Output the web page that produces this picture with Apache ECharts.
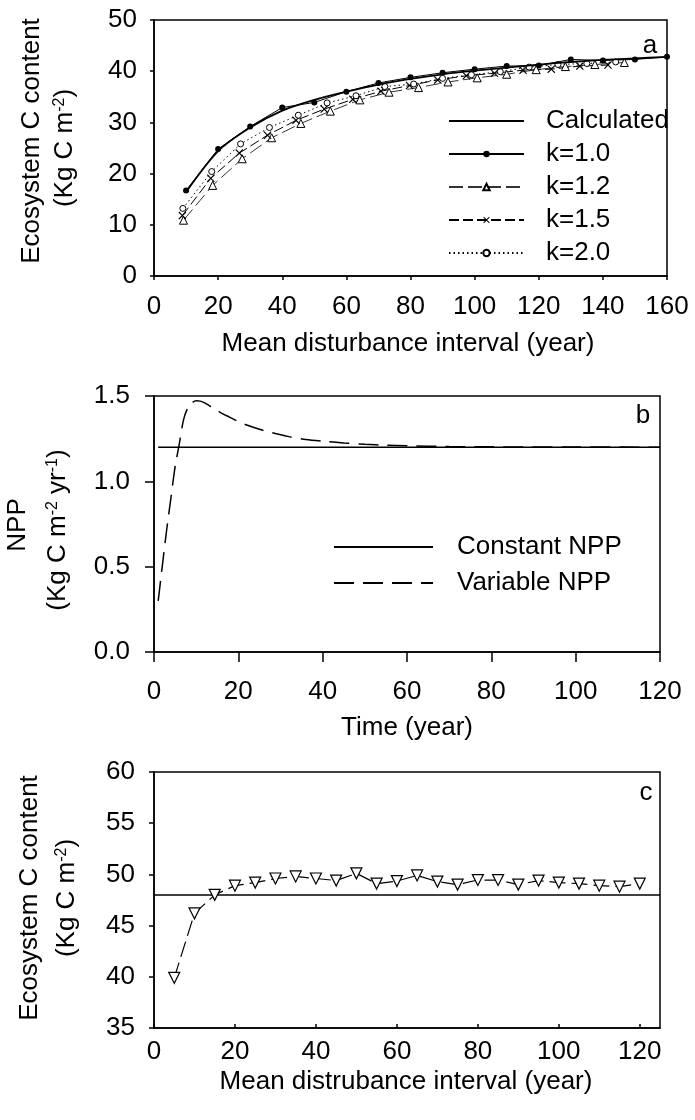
<!DOCTYPE html>
<html>
<head>
<meta charset="utf-8">
<script src="https://cdn.jsdelivr.net/npm/echarts@6/dist/echarts.min.js"></script>
<style>
html,body{margin:0;padding:0;background:#fff;}
#chart{width:695px;height:1120px;}
</style>
</head>
<body>
<div id="chart"></div>
<script>
// ---- Panel a data ----
const calcX = [10,20,30,40,50,60,70,80,90,100,110,120,130,140,150,160];
const calcY = [16.4,24.4,29.0,32.3,34.4,36.0,37.4,38.5,39.4,40.1,40.7,41.3,41.8,42.2,42.5,42.8];
const k10X = [10,20,30,40,50,60,70,80,90,100,110,120,130,140,150,160];
const k10Y = [16.7,24.8,29.2,32.9,33.9,36.0,37.7,38.8,39.7,40.4,41.0,41.1,42.3,42.1,42.3,42.8];
const k12X = [9.2,18.3,27.5,36.7,45.8,55,64.2,73.3,82.5,91.7,100.8,110,119.2,128.3,137.5,146.7];
const k12Y = [10.9,17.7,22.9,27.0,29.8,32.2,34.4,35.9,36.8,37.9,38.7,39.4,40.3,40.9,41.3,41.7];
const k15X = [8.85,17.7,26.6,35.4,44.3,53.1,62,70.8,79.7,88.5,97.4,106.2,115.1,123.9,132.8,141.6];
const k15Y = [11.8,19.1,24.0,27.5,30.4,32.6,34.5,36.1,37.2,38.3,39.1,39.6,40.2,40.4,41.0,41.2];
const k20X = [9,18,27,36,45,54,63,72,81,90,99,108,117,126,135,144];
const k20Y = [13.2,20.4,25.8,29.0,31.4,33.8,35.2,37.0,37.5,38.6,39.3,39.9,40.8,41.3,41.5,41.8];

// ---- Panel b data ----
const varT = [1,2,3,4,5,6,7,8,9,10,11,12,14,16,18,20,22,25,28,32,36,40,45,50,55,60,70,80,100,120];
const varNPP = [0.30,0.51,0.715,0.90,1.085,1.22,1.36,1.43,1.46,1.472,1.47,1.46,1.43,1.40,1.375,1.35,1.33,1.305,1.285,1.262,1.245,1.235,1.225,1.217,1.212,1.208,1.204,1.202,1.201,1.2];
const constT = [1,120];
const constNPP = [1.2,1.2];

// ---- Panel c data ----
const intervalX = [5,10,15,20,25,30,35,40,45,50,55,60,65,70,75,80,85,90,95,100,105,110,115,120];
const ecoC = [39.9,46.2,48.0,48.9,49.2,49.6,49.8,49.6,49.4,50.1,49.1,49.35,49.9,49.3,49.0,49.45,49.45,49.0,49.4,49.2,49.1,48.9,48.8,49.1];
const baseX = [0,125];
const baseC = [48,48];

const zip = (xs, ys) => xs.map((x, i) => [x, ys[i]]);
const FONT = "'Liberation Sans', Arial, sans-serif";
const FS = 26;
const black = '#000';

function xAxisCfg(grid, min, max, tickLen, tickInside, margin) {
  return {
    type: 'value', gridIndex: grid, min: min, max: max, interval: 20,
    axisLine: {show: true, onZero: false, lineStyle: {color: black, width: 1.5}},
    axisTick: {show: true, inside: tickInside, length: tickLen, lineStyle: {color: black, width: 1.5}},
    splitLine: {show: false},
    axisLabel: {color: black, fontSize: FS, fontFamily: FONT, margin: margin, showMaxLabel: max % 20 === 0,
      formatter: v => (v % 20 === 0 ? String(v) : '')}
  };
}
function yAxisCfg(grid, min, max, interval, tickLen, margin, fmt) {
  return {
    type: 'value', gridIndex: grid, min: min, max: max, interval: interval,
    axisLine: {show: true, onZero: false, lineStyle: {color: black, width: 1.5}},
    axisTick: {show: true, length: tickLen, lineStyle: {color: black, width: 1.5}},
    splitLine: {show: false},
    axisLabel: {color: black, fontSize: FS, fontFamily: FONT, margin: margin, formatter: fmt}
  };
}

const xPath = 'path://M0,1L1,0L5,4L9,0L10,1L6,5L10,9L9,10L5,6L1,10L0,9L4,5Z';
const noSym = {opacity: 0};

const option = {
  animation: false,
  backgroundColor: '#fff',
  textStyle: {fontFamily: FONT},
  grid: [
    {left: 154, top: 20, width: 513, height: 256, show: true, borderColor: black, borderWidth: 1.5},
    {left: 154, top: 396, width: 506, height: 256, show: true, borderColor: black, borderWidth: 1.5},
    {left: 154, top: 772, width: 506, height: 256, show: true, borderColor: black, borderWidth: 1.5}
  ],
  xAxis: [
    xAxisCfg(0, 0, 160, 4, false, 18),
    xAxisCfg(1, 0, 120, 10, false, 27),
    xAxisCfg(2, 0, 125, 4, true, 11)
  ],
  yAxis: [
    yAxisCfg(0, 0, 50, 10, 4, 17, v => String(v)),
    yAxisCfg(1, 0, 1.5, 0.5, 9, 24, v => v.toFixed(1)),
    yAxisCfg(2, 35, 60, 5, 5, 19, v => String(v))
  ],
  legend: [
    {
      orient: 'vertical', left: 443, top: 103, itemWidth: 75, itemHeight: 8, itemGap: 7,
      data: [{name: 'Calculated', itemStyle: noSym}, 'k=1.0', 'k=1.2', 'k=1.5', 'k=2.0'],
      textStyle: {color: black, fontSize: FS, fontFamily: FONT, lineHeight: 26, padding: [0,0,0,17]}
    },
    {
      orient: 'vertical', left: 328, top: 529, itemWidth: 99, itemHeight: 8, itemGap: 10,
      data: [{name: 'Constant NPP', itemStyle: noSym}, {name: 'Variable NPP', itemStyle: noSym}],
      textStyle: {color: black, fontSize: FS, fontFamily: FONT, lineHeight: 26, padding: [0,0,0,19]}
    }
  ],
  series: [
    {name: 'Calculated', type: 'line', xAxisIndex: 0, yAxisIndex: 0, data: zip(calcX, calcY),
      symbol: 'none', smooth: 0.3, lineStyle: {color: black, width: 1.8}, itemStyle: {color: black}, z: 5},
    {name: 'k=1.0', type: 'line', xAxisIndex: 0, yAxisIndex: 0, data: zip(k10X, k10Y),
      symbol: 'circle', symbolSize: 6, lineStyle: {color: black, width: 1},
      itemStyle: {color: black, borderColor: black, borderWidth: 0}},
    {name: 'k=1.2', type: 'line', xAxisIndex: 0, yAxisIndex: 0, data: zip(k12X, k12Y),
      symbol: 'triangle', symbolSize: 8, lineStyle: {color: '#333', width: 1, type: [14,5]},
      itemStyle: {color: '#fff', borderColor: black, borderWidth: 1}},
    {name: 'k=1.5', type: 'line', xAxisIndex: 0, yAxisIndex: 0, data: zip(k15X, k15Y),
      symbol: xPath, symbolSize: 8, lineStyle: {color: black, width: 1, type: [10,4]},
      itemStyle: {color: black, borderColor: black, borderWidth: 0}},
    {name: 'k=2.0', type: 'line', xAxisIndex: 0, yAxisIndex: 0, data: zip(k20X, k20Y),
      symbol: 'circle', symbolSize: 6, lineStyle: {color: black, width: 1, type: [1.5,3]},
      itemStyle: {color: '#fff', borderColor: black, borderWidth: 1}},

    {name: 'Constant NPP', type: 'line', xAxisIndex: 1, yAxisIndex: 1, data: zip(constT, constNPP),
      symbol: 'none', lineStyle: {color: black, width: 1.5}, itemStyle: {color: black}},
    {name: 'Variable NPP', type: 'line', xAxisIndex: 1, yAxisIndex: 1, data: zip(varT, varNPP),
      symbol: 'none', smooth: 0.3, lineStyle: {color: black, width: 1.5, type: [20,9]}, itemStyle: {color: black}},

    {name: 'c-base', type: 'line', xAxisIndex: 2, yAxisIndex: 2, data: zip(baseX, baseC),
      symbol: 'none', lineStyle: {color: black, width: 1.5}, z: 2},
    {name: 'c-eco', type: 'line', xAxisIndex: 2, yAxisIndex: 2, data: zip(intervalX, ecoC),
      symbol: 'triangle', symbolRotate: 180, symbolSize: 11, lineStyle: {color: black, width: 1.2, type: [16,6]},
      itemStyle: {color: '#fff', borderColor: black, borderWidth: 1.2}, z: 3}
  ],
  graphic: [
    {type: 'text', x: 32, y: 141, rotation: Math.PI/2, style: {text: 'Ecosystem C content', fontSize: FS, fontFamily: FONT, fill: black, align: 'center', verticalAlign: 'middle'}},
    {type: 'text', x: 65, y: 148, rotation: Math.PI/2, style: {text: '(Kg C m{s|-2})', fontSize: FS, fontFamily: FONT, fill: black, align: 'center', verticalAlign: 'middle',
      rich: {s: {fontSize: 16, fontFamily: FONT, fill: black, verticalAlign: 'top'}}}},
    {type: 'text', x: 18, y: 525, rotation: Math.PI/2, style: {text: 'NPP', fontSize: FS, fontFamily: FONT, fill: black, align: 'center', verticalAlign: 'middle'}},
    {type: 'text', x: 58, y: 530, rotation: Math.PI/2, style: {text: '(Kg C m{s|-2} yr{s|-1})', fontSize: FS, fontFamily: FONT, fill: black, align: 'center', verticalAlign: 'middle',
      rich: {s: {fontSize: 16, fontFamily: FONT, fill: black, verticalAlign: 'top'}}}},
    {type: 'text', x: 30, y: 898, rotation: Math.PI/2, style: {text: 'Ecosystem C content', fontSize: FS, fontFamily: FONT, fill: black, align: 'center', verticalAlign: 'middle'}},
    {type: 'text', x: 67, y: 898, rotation: Math.PI/2, style: {text: '(Kg C m{s|-2})', fontSize: FS, fontFamily: FONT, fill: black, align: 'center', verticalAlign: 'middle',
      rich: {s: {fontSize: 16, fontFamily: FONT, fill: black, verticalAlign: 'top'}}}},
    {type: 'text', x: 408, y: 344, style: {text: 'Mean disturbance interval (year)', fontSize: FS, fontFamily: FONT, fill: black, align: 'center', verticalAlign: 'middle'}},
    {type: 'text', x: 407, y: 728, style: {text: 'Time (year)', fontSize: FS, fontFamily: FONT, fill: black, align: 'center', verticalAlign: 'middle'}},
    {type: 'text', x: 406, y: 1082, style: {text: 'Mean distrubance interval (year)', fontSize: FS, fontFamily: FONT, fill: black, align: 'center', verticalAlign: 'middle'}},
    {type: 'text', x: 650, y: 46, style: {text: 'a', fontSize: FS, fontFamily: FONT, fill: black, align: 'center', verticalAlign: 'middle'}},
    {type: 'text', x: 643, y: 416, style: {text: 'b', fontSize: FS, fontFamily: FONT, fill: black, align: 'center', verticalAlign: 'middle'}},
    {type: 'text', x: 646, y: 793, style: {text: 'c', fontSize: FS, fontFamily: FONT, fill: black, align: 'center', verticalAlign: 'middle'}}
  ]
};

const chart = echarts.init(document.getElementById('chart'), null, {renderer: 'canvas'});
chart.setOption(option);
</script>
</body>
</html>
